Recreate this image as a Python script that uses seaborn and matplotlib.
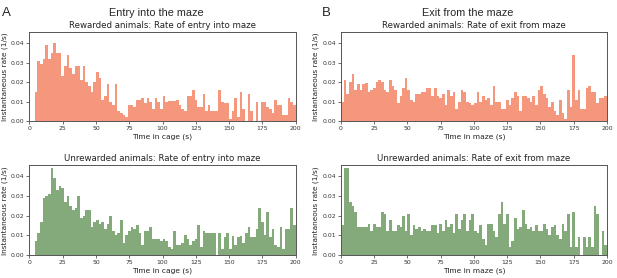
import numpy as np
import pandas as pd
import seaborn as sns
import matplotlib.pyplot as plt

# bins of 2 s from 0 to 200
bin_centers = np.arange(1, 200, 2)

entry_rewarded = [
    0, 0, 0.015, 0.031, 0.029, 0.032, 0.039, 0.032, 0.035, 0.040,
    0.035, 0.035, 0.023, 0.028, 0.034, 0.027, 0.024, 0.028, 0.028, 0.021,
    0.028, 0.020, 0.018, 0.015, 0.020, 0.025, 0.022, 0.011, 0.013, 0.019,
    0.010, 0.008, 0.019, 0.005, 0.004, 0.003, 0.002, 0.008, 0.008, 0.007,
    0.011, 0.011, 0.012, 0.009, 0.012, 0.010, 0.006, 0.012, 0.010, 0.006,
    0.0126, 0.010, 0.0105, 0.0105, 0.0105, 0.011, 0.008, 0.006, 0.005, 0.013,
    0.013, 0.016, 0.011, 0.007, 0.007, 0.014, 0.005, 0.008, 0.005, 0.005,
    0.005, 0.016, 0.010, 0.009, 0.009, 0.001, 0.005, 0.012, 0.002, 0.015,
    0.006, 0.0, 0.014, 0.005, 0.0, 0.010, 0.0, 0.010, 0.010, 0.007,
    0.006, 0.004, 0.011, 0.008, 0.008, 0.003, 0.003, 0.012, 0.010, 0.008,
]

exit_rewarded = [
    0.010, 0.021, 0.014, 0.020, 0.024, 0.016, 0.019, 0.016, 0.019, 0.0195,
    0.015, 0.016, 0.017, 0.020, 0.021, 0.020, 0.016, 0.015, 0.021, 0.018,
    0.016, 0.009, 0.013, 0.017, 0.022, 0.016, 0.011, 0.0095, 0.014, 0.014,
    0.015, 0.015, 0.017, 0.017, 0.013, 0.017, 0.013, 0.012, 0.014, 0.008,
    0.016, 0.013, 0.015, 0.006, 0.010, 0.016, 0.015, 0.010, 0.009, 0.008,
    0.009, 0.015, 0.010, 0.013, 0.011, 0.012, 0.008, 0.018, 0.010, 0.010,
    0.006, 0.006, 0.011, 0.008, 0.012, 0.015, 0.013, 0.005, 0.013, 0.013,
    0.012, 0.010, 0.013, 0.008, 0.016, 0.018, 0.014, 0.012, 0.007, 0.010,
    0.005, 0.003, 0.011, 0.004, 0.001, 0.016, 0.007, 0.034, 0.011, 0.016,
    0.006, 0.006, 0.017, 0.018, 0.015, 0.015, 0.009, 0.012, 0.012, 0.013,
]

entry_unrewarded = [
    0, 0, 0.007, 0.011, 0.017, 0.029, 0.030, 0.031, 0.044, 0.039,
    0.033, 0.035, 0.034, 0.027, 0.030, 0.025, 0.023, 0.024, 0.030, 0.019,
    0.020, 0.023, 0.023, 0.014, 0.017, 0.018, 0.016, 0.017, 0.013, 0.016,
    0.020, 0.012, 0.010, 0.011, 0.018, 0.006, 0.010, 0.012, 0.014, 0.013,
    0.015, 0.011, 0.005, 0.012, 0.012, 0.014, 0.008, 0.008, 0.008, 0.007,
    0.008, 0.007, 0.004, 0.003, 0.012, 0.005, 0.005, 0.006, 0.010, 0.008,
    0.005, 0.007, 0.008, 0.015, 0.004, 0.012, 0.011, 0.011, 0.011, 0.011,
    0.0, 0.011, 0.003, 0.009, 0.011, 0.003, 0.0095, 0.005, 0.009, 0.0095,
    0.006, 0.011, 0.014, 0.009, 0.009, 0.013, 0.024, 0.017, 0.010, 0.022,
    0.009, 0.013, 0.005, 0.004, 0.014, 0.003, 0.013, 0.013, 0.024, 0.015,
]

exit_unrewarded = [
    0.015, 0.044, 0.044, 0.027, 0.025, 0.022, 0.014, 0.014, 0.014, 0.014,
    0.016, 0.012, 0.016, 0.014, 0.014, 0.022, 0.021, 0.012, 0.018, 0.012,
    0.012, 0.015, 0.014, 0.020, 0.012, 0.021, 0.010, 0.015, 0.013, 0.014,
    0.012, 0.013, 0.012, 0.012, 0.015, 0.015, 0.011, 0.016, 0.012, 0.018,
    0.014, 0.016, 0.011, 0.021, 0.013, 0.018, 0.021, 0.012, 0.018, 0.021,
    0.012, 0.011, 0.015, 0.008, 0.005, 0.016, 0.016, 0.012, 0.009, 0.021,
    0.027, 0.016, 0.021, 0.004, 0.007, 0.019, 0.013, 0.014, 0.023, 0.016,
    0.013, 0.014, 0.012, 0.015, 0.012, 0.012, 0.016, 0.013, 0.010, 0.014,
    0.015, 0.010, 0.008, 0.016, 0.012, 0.021, 0.004, 0.022, 0.004, 0.009,
    0.0, 0.009, 0.004, 0.009, 0.004, 0.025, 0.021, 0.0, 0.012, 0.005,
]

sns.set_theme(style="ticks")
plt.rcParams['font.family'] = ['DejaVu Sans']

salmon = "#f4977c"
green = "#84a97a"

fig = plt.figure(figsize=(6.17, 2.78), dpi=100)
ax_tl = fig.add_axes([0.0478, 0.5647, 0.4314, 0.3190])
ax_tr = fig.add_axes([0.5527, 0.5647, 0.4310, 0.3190])
ax_bl = fig.add_axes([0.0478, 0.0827, 0.4314, 0.3220])
ax_br = fig.add_axes([0.5527, 0.0827, 0.4310, 0.3220])

panels = [
    (ax_tl, entry_rewarded, salmon, "Rewarded animals: Rate of entry into maze", "Time in cage (s)"),
    (ax_tr, exit_rewarded, salmon, "Rewarded animals: Rate of exit from maze", "Time in maze (s)"),
    (ax_bl, entry_unrewarded, green, "Unrewarded animals: Rate of entry into maze", "Time in cage (s)"),
    (ax_br, exit_unrewarded, green, "Unrewarded animals: Rate of exit from maze", "Time in maze (s)"),
]

for ax, vals, col, title, xlab in panels:
    df = pd.DataFrame({"t": bin_centers, "rate": vals})
    sns.histplot(data=df, x="t", weights="rate", bins=100, binrange=(0, 200),
                 color=col, alpha=1, linewidth=0, ax=ax)
    ax.set_xlim(0, 200)
    ax.set_ylim(0, 0.0455)
    ax.set_xticks([0, 25, 50, 75, 100, 125, 150, 175, 200])
    ax.set_yticks([0, 0.01, 0.02, 0.03, 0.04])
    ax.set_yticklabels(["0.00", "0.01", "0.02", "0.03", "0.04"])
    ax.tick_params(labelsize=4.4, length=2.2, width=0.5, pad=1.5, colors="#333333")
    ax.set_title(title, fontsize=6.2, pad=3, color="#222222")
    ax.set_xlabel(xlab, fontsize=5.4, labelpad=1.5, color="#222222")
    ax.set_ylabel("Instantaneous rate (1/s)", fontsize=5.3, labelpad=2, color="#222222")
    for s in ax.spines.values():
        s.set_visible(True)
        s.set_linewidth(0.7)
        s.set_color("#555555")

fig.text(0.254, 0.953, "Entry into the maze", ha="center", va="center",
         fontsize=7.8, family="Liberation Sans")
fig.text(0.758, 0.953, "Exit from the maze", ha="center", va="center",
         fontsize=7.8, family="Liberation Sans")
fig.text(0.004, 0.953, "A", ha="left", va="center", fontsize=9.5, family="Liberation Sans")
fig.text(0.522, 0.953, "B", ha="left", va="center", fontsize=9.5, family="Liberation Sans")

fig.savefig("out.png", dpi=100)
